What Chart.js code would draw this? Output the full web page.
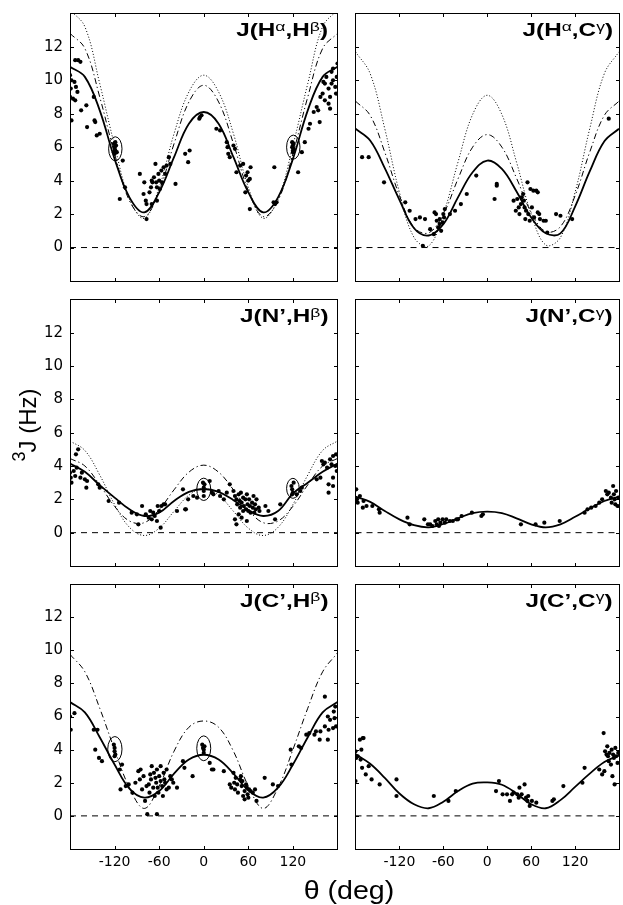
<!DOCTYPE html>
<html>
<head>
<meta charset="utf-8">
<script src="https://cdn.jsdelivr.net/npm/chart.js@4.4.1/dist/chart.umd.min.js"></script>
<style>
  body { margin: 0; background: #fff; width: 623px; height: 905px; position: relative; overflow: hidden;
         font-family: 'Liberation Sans', Arial, sans-serif; color: #000; }
  canvas { position: absolute; left: 0; top: 0; }
  .ttl { position: absolute; font-weight: bold; font-size: 18px; line-height: 18px; white-space: nowrap;
         transform: scaleX(1.35); transform-origin: right center; }
  .ttl sup { font-size: 13px; font-weight: normal; vertical-align: 0; position: relative; top: -5.5px; }
  .ylab { position: absolute; width: 140px; height: 30px; line-height: 30px; text-align: center; font-size: 24px;
          transform: rotate(-90deg); white-space: nowrap; }
  .ylab sup { font-size: 18px; vertical-align: 0; position: relative; top: -11px; margin-right: -1px; }
  .xlab { position: absolute; width: 140px; height: 30px; line-height: 30px; text-align: center; font-size: 26px;
          transform: scaleX(1.1); white-space: nowrap; }
</style>
</head>
<body>
<script>
// dihedral angle grid for the fitted curves (deg)
const curveTheta = [-180, -160, -140, -120, -100, -80, -60, -40, -20, 0, 20, 40, 60, 80, 100, 120, 140, 160, 180];
const xRange = [-180, 180];
const zeroLine = [0, 0];
const xTicks = [-120, -60, 0, 60, 120];
const yTicks = [0, 2, 4, 6, 8, 10, 12];

// J(Ha,Hb)
const hahbSolid   = [10.8, 10.2, 8.2, 5.3, 3.0, 2.1, 3.3, 5.4, 7.4, 8.1, 7.4, 5.4, 3.3, 2.1, 3.0, 5.3, 8.2, 10.2, 10.8];
const hahbDashDot = [12.8, 11.9, 9.0, 5.6, 2.8, 1.85, 3.4, 6.2, 8.7, 9.7, 8.7, 6.2, 3.4, 1.85, 2.8, 5.6, 9.0, 11.9, 12.8];
const hahbDotted  = [14.2, 13.2, 9.8, 6.1, 2.9, 1.75, 3.6, 6.8, 9.3, 10.3, 9.3, 6.8, 3.6, 1.75, 2.9, 6.1, 9.8, 13.2, 14.2];
const hahbPoints = [[-180,10.3],[-179,9.5],[-180,9.0],[-178,7.6],[-173,11.2],[-169,11.2],[-166,11.1],[-178,10.0],[-174,9.9],
  [-172,9.6],[-170,9.3],[-173,8.8],[-176,8.9],[-165,8.2],[-158,8.5],[-157,7.2],[-148,9.0],[-147,7.6],[-146,7.5],[-144,6.7],
  [-140,6.8],[-121,6.2],[-120,6.0],[-119,5.8],[-121,5.7],[-120,5.6],[-119,6.3],[-120,5.9],[-118,6.1],[-117,5.7],[-109,5.2],
  [-106,3.6],[-113,2.9],[-86,4.4],[-80,3.9],[-81,3.2],[-78,2.8],[-77,2.6],[-77,1.7],[-73,3.3],[-71,3.6],[-70,4.0],[-69,3.9],
  [-67,4.2],[-65,5.0],[-64,3.9],[-63,3.6],[-61,4.4],[-60,4.0],[-59,3.5],[-57,4.6],[-56,3.9],[-54,4.8],[-52,4.4],[-50,4.9],
  [-47,5.4],[-45,5.0],[-70,2.6],[-63,2.8],[-38,3.8],[-25,5.6],[-21,5.1],[-19,5.8],[-6,7.7],[-5,7.8],[-3,7.9],[17,7.1],[22,7.0],
  [31,6.3],[32,6.0],[33,5.6],[35,5.4],[40,6.1],[42,5.9],[44,4.5],[49,4.9],[53,5.0],[57,4.3],[59,4.5],[60,4.0],[62,4.1],[63,4.8],
  [56,3.3],[62,2.3],[94,2.7],[96,2.6],[98,2.7],[95,4.8],[119,6.3],[120,6.1],[121,5.9],[120,5.7],[119,6.0],[121,6.2],[120,5.8],
  [127,4.5],[132,5.7],[136,6.3],[141,7.1],[143,7.4],[148,8.1],[152,8.4],[154,8.2],[157,9.0],[160,9.2],[163,9.8],[165,10.2],
  [168,9.5],[170,9.0],[172,9.8],[174,10.0],[177,9.6],[178,9.2],[179,10.2],[180,11.0],[163,8.8],[168,8.6],[170,8.3],[156,7.5],
  [161,9.9],[174,10.7],[172,10.5]];
const hahbRings = [[-119, 5.9, 9, 0.72], [120.5, 6.0, 9, 0.72]];

// J(Ha,Cg)
const hacgSolid   = [7.1, 6.4, 4.75, 2.85, 1.15, 0.72, 1.4, 3.0, 4.5, 5.2, 4.7, 3.35, 1.8, 0.85, 0.85, 2.45, 4.55, 6.35, 7.1];
const hacgDashDot = [8.75, 7.9, 5.7, 3.1, 1.2, 0.88, 2.0, 4.1, 6.0, 6.75, 6.0, 4.15, 2.1, 0.95, 1.25, 3.1, 5.7, 7.9, 8.75];
const hacgDotted  = [11.7, 10.4, 7.1, 3.3, 0.6, 0.1, 2.0, 5.1, 7.95, 9.1, 7.95, 5.1, 2.0, 0.15, 0.6, 3.3, 7.1, 10.4, 11.7];
const hacgPoints = [[-171,5.4],[-162,5.4],[-141,3.9],[-112,2.7],[-106,2.2],[-98,1.7],[-92,1.8],[-85,1.7],[-88,0.1],[-78,1.1],
  [-73,0.8],[-72,2.1],[-70,2.0],[-69,1.6],[-67,1.2],[-65,1.4],[-65,1.7],[-63,1.0],[-61,1.5],[-60,2.0],[-59,1.8],[-58,2.3],
  [-51,2.0],[-44,2.2],[-36,2.6],[-28,3.2],[-15,4.3],[10,2.9],[13,3.8],[13,3.7],[36,2.8],[39,2.2],[41,2.9],[43,2.4],[44,2.0],
  [46,2.6],[47,3.0],[49,3.2],[50,2.8],[51,2.4],[52,1.7],[53,2.2],[55,3.9],[56,2.0],[58,1.6],[59,3.5],[61,2.4],[63,3.4],[64,1.8],
  [67,3.4],[69,2.1],[71,2.0],[72,1.7],[69,3.3],[77,1.6],[80,1.6],[82,0.9],[94,2.0],[100,1.9],[116,1.7],[166,7.7]];

// J(N',Hb)
const nhbSolid   = [4.15, 3.65, 2.85, 2.1, 1.4, 1.0, 1.2, 1.9, 2.45, 2.62, 2.45, 1.95, 1.35, 1.0, 1.3, 2.35, 3.0, 3.65, 4.15];
const nhbDashDot = [4.45, 4.0, 2.87, 1.58, 0.7, 0.6, 1.38, 2.57, 3.63, 4.05, 3.63, 2.57, 1.38, 0.6, 0.7, 1.58, 2.87, 4.0, 4.45];
const nhbDotted  = [5.5, 4.93, 3.46, 1.69, 0.32, -0.17, 0.27, 1.28, 2.25, 2.65, 2.25, 1.28, 0.27, -0.17, 0.32, 1.69, 3.46, 4.93, 5.5];
const nhbPoints = [[-180,3.6],[-179,3.3],[-178,3.0],[-175,3.7],[-173,3.4],[-171,3.9],[-169,5.0],[-172,4.7],[-166,3.3],[-164,3.6],
  [-160,3.2],[-158,2.7],[-157,3.1],[-142,2.9],[-140,2.7],[-128,1.9],[-114,1.8],[-97,1.2],[-90,1.1],[-88,0.5],[-83,1.6],[-78,1.1],
  [-74,0.9],[-72,1.3],[-70,0.8],[-68,1.2],[-66,1.0],[-63,0.7],[-60,1.3],[-58,0.3],[-57,1.6],[-54,1.7],[-52,1.7],[-62,1.6],
  [-36,1.3],[-25,1.4],[-24,1.4],[-28,2.6],[-21,2.0],[-14,2.2],[-9,2.1],[-1,3.0],[0,2.7],[0,2.5],[0,2.2],[1,2.9],[8,3.1],[11,2.4],
  [13,2.3],[20,2.5],[22,2.2],[27,2.0],[31,2.4],[35,2.9],[40,2.5],[42,2.2],[44,2.0],[45,1.7],[47,2.3],[48,1.9],[49,1.5],[50,2.4],
  [51,1.8],[53,1.3],[53,2.1],[54,1.6],[56,2.0],[57,1.4],[58,2.3],[59,1.7],[60,1.3],[61,2.0],[62,1.6],[63,1.2],[65,1.8],[66,1.5],
  [67,2.2],[68,1.2],[69,1.7],[70,1.4],[71,2.0],[74,1.5],[75,1.3],[42,0.8],[44,0.5],[47,1.1],[51,0.9],[58,0.7],[83,1.6],[87,1.3],
  [96,0.8],[103,1.7],[118,2.8],[119,2.6],[120,2.4],[119,2.3],[121,3.0],[125,2.3],[130,2.5],[132,2.7],[152,3.2],[157,3.3],
  [159,4.3],[161,4.1],[163,4.2],[166,3.9],[168,2.4],[170,4.4],[172,4.1],[174,4.6],[177,4.0],[174,2.8],[178,4.7],[179,3.7],
  [168,2.9],[174,3.3]];
const nhbRings = [[0, 2.6, 9.4, 0.67], [120, 2.66, 8.5, 0.6]];

// J(N',Cg)
const ncgSolid = [2.16, 1.85, 1.3, 0.8, 0.45, 0.32, 0.52, 0.86, 1.17, 1.26, 1.17, 0.86, 0.5, 0.32, 0.5, 0.95, 1.45, 1.9, 2.16];
const ncgPoints = [[-179,2.6],[-178,2.0],[-177,1.8],[-174,2.2],[-170,1.5],[-169,1.9],[-165,1.6],[-157,1.6],[-148,1.4],[-147,1.2],
  [-109,0.9],[-106,0.5],[-86,0.8],[-81,0.5],[-78,0.5],[-75,0.4],[-71,0.7],[-69,0.5],[-67,0.8],[-66,0.4],[-64,0.6],[-61,0.8],
  [-58,0.6],[-56,0.8],[-51,0.7],[-47,0.7],[-42,0.8],[-40,0.8],[-35,1.0],[-21,1.2],[-8,1.0],[-6,1.1],[46,0.5],[66,0.5],[78,0.6],
  [99,0.7],[133,1.2],[137,1.4],[142,1.5],[148,1.6],[153,1.8],[157,2.0],[162,2.5],[164,2.3],[166,2.4],[169,2.1],[170,1.8],
  [172,2.8],[173,2.3],[174,2.0],[176,2.5],[178,1.6],[179,2.1],[175,1.7]];

// J(C',Hb)
const chbSolid   = [6.87, 6.25, 4.75, 3.1, 1.65, 1.1, 1.5, 2.55, 3.4, 3.69, 3.4, 2.55, 1.55, 1.1, 1.7, 3.1, 4.75, 6.25, 6.87];
const chbDashDot = [9.75, 8.7, 6.5, 4.0, 1.7, 0.45, 1.8, 3.9, 5.35, 5.73, 5.35, 3.9, 1.8, 0.45, 1.7, 4.0, 6.5, 8.7, 9.84];
const chbPoints = [[-180,6.0],[-179,5.2],[-174,6.2],[-148,5.2],[-143,5.2],[-146,4.0],[-141,3.5],[-137,3.3],[-121,4.3],[-120,4.1],
  [-120,3.9],[-119,3.7],[-120,3.6],[-113,2.8],[-110,3.1],[-112,1.6],[-105,1.8],[-101,1.9],[-96,1.4],[-92,2.0],[-88,2.7],[-86,2.2],
  [-85,2.8],[-83,1.6],[-81,2.4],[-79,0.9],[-76,0.1],[-77,1.8],[-74,1.9],[-73,1.4],[-72,2.5],[-71,2.2],[-70,3.0],[-68,1.7],
  [-67,2.6],[-66,1.2],[-65,2.3],[-64,2.0],[-63,0.1],[-63,2.8],[-62,1.7],[-61,1.4],[-60,2.4],[-58,3.0],[-58,2.1],[-56,1.8],
  [-55,1.2],[-54,2.6],[-53,2.2],[-52,2.0],[-50,1.6],[-50,2.8],[-47,1.7],[-45,2.4],[-43,2.2],[-41,2.0],[-36,1.7],[-28,3.3],
  [-26,2.9],[-15,2.4],[-2,4.3],[-1,4.1],[0,4.0],[0,3.8],[1,4.2],[8,3.2],[11,2.8],[13,2.8],[27,2.7],[35,1.9],[37,1.7],[40,2.6],
  [41,2.0],[42,1.6],[43,2.3],[45,1.9],[46,1.4],[49,2.2],[50,2.4],[51,1.8],[52,2.1],[53,1.2],[55,1.5],[55,1.0],[57,1.9],[58,1.7],
  [59,1.3],[60,1.1],[61,1.6],[63,1.5],[66,1.4],[69,1.6],[71,0.9],[82,2.3],[93,1.9],[100,1.8],[117,4.0],[118,3.1],[128,4.2],
  [131,4.1],[138,4.9],[142,5.0],[149,4.9],[151,5.1],[156,4.6],[157,5.1],[163,5.4],[167,6.0],[168,5.2],[170,5.8],[174,5.3],
  [163,7.2],[175,6.3],[176,5.9],[177,6.6],[178,5.4],[167,4.6]];
const chbRings = [[-119.6, 4.03, 9.6, 0.76], [0, 4.08, 9.4, 0.75]];

// J(C',Cg)
const ccgSolid = [3.73, 3.15, 2.3, 1.35, 0.7, 0.46, 0.85, 1.5, 1.95, 2.02, 1.88, 1.35, 0.7, 0.46, 0.95, 1.75, 2.55, 3.25, 3.65];
const ccgPoints = [[-180,3.9],[-179,3.5],[-180,2.1],[-177,3.6],[-174,4.6],[-172,4.0],[-170,4.7],[-169,4.7],[-173,3.4],[-171,2.9],
  [-166,2.5],[-162,3.0],[-158,2.2],[-147,1.9],[-124,2.2],[-124,1.2],[-73,1.2],[-53,0.9],[-43,1.5],[12,1.5],[16,2.1],[21,1.3],
  [27,1.3],[31,0.9],[34,1.3],[36,1.4],[41,1.3],[43,1.1],[44,1.7],[47,1.3],[51,1.9],[53,1.1],[55,0.9],[56,1.2],[58,0.6],[61,0.9],
  [67,0.8],[89,0.9],[91,1.0],[104,1.8],[130,2.0],[133,2.9],[153,2.8],[157,2.5],[160,2.7],[161,3.9],[163,3.7],[164,4.2],[165,3.6],
  [166,3.3],[167,3.8],[169,3.1],[170,4.0],[171,2.4],[172,3.7],[173,3.5],[174,1.9],[175,4.1],[159,5.0],[176,3.6],[178,3.2],[179,3.8]];

// ---------- layout ----------
const W = 623, H = 905;
const colX = [[70, 337.5], [355.5, 622]];
const rowY = [[13.3, 281], [299.3, 566], [584, 849]];
const Y_AXIS_W = 50, X_AXIS_H = 30;

const framePlugin = {
  id: 'frame',
  afterDatasetsDraw(chart, args, opts) {
    const { ctx, chartArea: a, scales: { x, y } } = chart;
    ctx.save();
    ctx.strokeStyle = '#000';
    ctx.lineWidth = 1;
    ctx.setLineDash([]);
    (opts.rings || []).forEach(([t, j, rt, rj]) => {
      const cx = x.getPixelForValue(t), cy = y.getPixelForValue(j);
      const rx = Math.abs(x.getPixelForValue(t + rt) - cx);
      const ry = Math.abs(y.getPixelForValue(j + rj) - cy);
      ctx.beginPath();
      ctx.ellipse(cx, cy, rx, ry, 0, 0, Math.PI * 2);
      ctx.stroke();
    });
    const l = Math.floor(a.left) + 0.5, r = Math.floor(a.right) + 0.5;
    const t = Math.floor(a.top) + 0.5, b = Math.floor(a.bottom) + 0.5;
    ctx.strokeRect(l, t, r - l, b - t);
    const tl = 3.5;
    ctx.beginPath();
    xTicks.forEach(v => {
      const px = Math.round(x.getPixelForValue(v)) + 0.5;
      ctx.moveTo(px, b); ctx.lineTo(px, b - tl);
      ctx.moveTo(px, t); ctx.lineTo(px, t + tl);
    });
    yTicks.forEach(v => {
      const py = Math.round(y.getPixelForValue(v)) + 0.5;
      ctx.moveTo(l, py); ctx.lineTo(l + tl, py);
      ctx.moveTo(r, py); ctx.lineTo(r - tl, py);
    });
    ctx.stroke();
    ctx.restore();
  }
};

function curve(ys, width, dash) {
  return {
    data: curveTheta.map((t, i) => ({ x: t, y: ys[i] })),
    showLine: true, pointRadius: 0, borderColor: '#000', backgroundColor: '#000',
    borderWidth: width, borderDash: dash, tension: 0.38
  };
}

function makePanel(row, col, title, curves, points, rings) {
  const cv = document.createElement('canvas');
  cv.width = W; cv.height = H;
  document.body.appendChild(cv);
  const [L, R] = colX[col], [T, B] = rowY[row];

  const datasets = [
    {
      data: xRange.map((t, i) => ({ x: t, y: zeroLine[i] })),
      showLine: true, pointRadius: 0, borderColor: '#000', borderWidth: 1, borderDash: [6, 5]
    },
    ...curves,
    {
      data: points.map(([t, j]) => ({ x: t, y: j })),
      showLine: false, pointRadius: 2.1, pointBorderWidth: 0,
      pointBackgroundColor: '#000', borderColor: '#000'
    }
  ];

  new Chart(cv, {
    type: 'scatter',
    data: { datasets },
    options: {
      responsive: false, animation: false, devicePixelRatio: 1,
      layout: { padding: { left: L - Y_AXIS_W, right: W - R, top: T, bottom: H - B - X_AXIS_H } },
      plugins: { legend: { display: false }, tooltip: { enabled: false }, frame: { rings } },
      scales: {
        x: {
          type: 'linear', position: 'bottom', min: xRange[0], max: xRange[1],
          grid: { display: false, drawTicks: true, tickLength: 5 }, border: { display: false },
          ticks: { display: row === 2, padding: 0, autoSkip: false, maxRotation: 0, color: '#000',
                   font: { family: 'DejaVu Sans', size: 14 } },
          afterBuildTicks: s => { s.ticks = xTicks.map(v => ({ value: v })); },
          afterFit: s => { s.height = X_AXIS_H; }
        },
        y: {
          type: 'linear', position: 'left', min: -2, max: 14,
          grid: { display: false, drawTicks: true, tickLength: 7 }, border: { display: false },
          ticks: { display: col === 0, padding: 0, autoSkip: false, color: '#000',
                   font: { family: 'DejaVu Sans', size: 15 } },
          afterBuildTicks: s => { s.ticks = yTicks.map(v => ({ value: v })); },
          afterFit: s => { s.width = Y_AXIS_W; }
        }
      }
    },
    plugins: [framePlugin]
  });

  const d = document.createElement('div');
  d.className = 'ttl';
  d.innerHTML = title;
  d.style.right = (W - R + 9) + 'px';
  d.style.top = (T + 7.8) + 'px';
  document.body.appendChild(d);
}

const DD = [6, 3, 1.2, 3];
const DOT = [1, 2];

makePanel(0, 0, 'J(H<sup>α</sup>,H<sup>β</sup>)',
  [curve(hahbDotted, 1, DOT), curve(hahbDashDot, 1, DD), curve(hahbSolid, 1.8, [])], hahbPoints, hahbRings);
makePanel(0, 1, 'J(H<sup>α</sup>,C<sup>γ</sup>)',
  [curve(hacgDotted, 1, DOT), curve(hacgDashDot, 1, DD), curve(hacgSolid, 1.8, [])], hacgPoints, []);
makePanel(1, 0, 'J(N’,H<sup>β</sup>)',
  [curve(nhbDotted, 1, DOT), curve(nhbDashDot, 1, DD), curve(nhbSolid, 1.8, [])], nhbPoints, nhbRings);
makePanel(1, 1, 'J(N’,C<sup>γ</sup>)',
  [curve(ncgSolid, 1.8, [])], ncgPoints, []);
makePanel(2, 0, 'J(C’,H<sup>β</sup>)',
  [curve(chbDashDot, 1, DD), curve(chbSolid, 1.8, [])], chbPoints, chbRings);
makePanel(2, 1, 'J(C’,C<sup>γ</sup>)',
  [curve(ccgSolid, 1.8, [])], ccgPoints, []);

// shared axis labels
const yl = document.createElement('div');
yl.className = 'ylab';
yl.innerHTML = '<sup>3</sup>J (Hz)';
yl.style.left = (28 - 70) + 'px';
yl.style.top = (425 - 15) + 'px';
document.body.appendChild(yl);

const xl = document.createElement('div');
xl.className = 'xlab';
xl.textContent = 'θ (deg)';
xl.style.left = (349 - 70) + 'px';
xl.style.top = (890 - 15) + 'px';
document.body.appendChild(xl);
</script>
</body>
</html>
